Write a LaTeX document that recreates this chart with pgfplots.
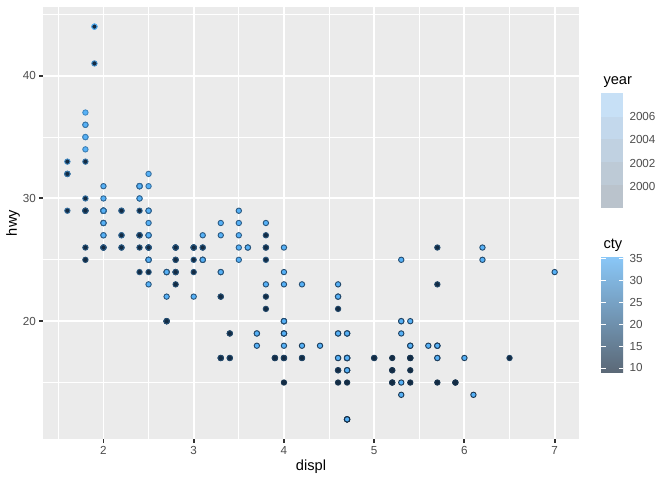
\documentclass[border=0pt]{standalone}
\usepackage{pgfplots}
\pgfplotsset{compat=1.18}
\usepackage{pgfplotstable}
\usepackage{fontspec}
\setmainfont{Liberation Sans}

\definecolor{panel}{HTML}{EBEBEB}
\definecolor{grey30}{HTML}{4D4D4D}
\definecolor{grey20}{HTML}{333333}
\definecolor{lo}{HTML}{132B43}
\definecolor{hi}{HTML}{56B1F7}
% faded legend colours
\definecolor{yrA}{HTML}{C7E0F6}
\definecolor{yrB}{HTML}{C3D8EC}
\definecolor{yrC}{HTML}{C0D1E1}
\definecolor{yrD}{HTML}{BDCAD6}
\definecolor{yrE}{HTML}{BAC3CC}
\definecolor{ctytop}{HTML}{89C6F6}
\definecolor{ctymid}{HTML}{6F95B8}
\definecolor{ctybot}{HTML}{5B6876}

\pgfplotstableread{
displ hwy cty year
1.8 29 18 1999
1.8 29 21 1999
2.0 31 20 2008
2.0 30 21 2008
2.8 26 16 1999
2.8 26 18 1999
3.1 27 18 2008
1.8 26 18 1999
1.8 25 16 1999
2.0 28 20 2008
2.0 27 19 2008
2.8 25 15 1999
2.8 25 17 1999
3.1 25 17 2008
3.1 25 15 2008
2.8 24 15 1999
3.1 25 17 2008
4.2 23 16 2008
5.3 20 14 2008
5.3 15 11 2008
5.3 20 14 2008
5.7 17 13 1999
6.0 17 12 2008
5.7 26 16 1999
5.7 23 15 1999
6.2 26 16 2008
6.2 25 15 2008
7.0 24 15 2008
5.3 19 14 2008
5.3 14 11 2008
5.7 15 11 1999
6.5 17 14 1999
2.4 27 19 1999
2.4 30 22 2008
3.1 26 18 1999
3.5 29 18 2008
3.6 26 17 2008
2.4 24 18 1999
3.0 24 17 1999
3.3 22 16 1999
3.3 22 16 1999
3.3 24 17 2008
3.3 24 17 2008
3.3 17 11 2008
3.8 22 15 1999
3.8 21 15 1999
3.8 23 16 2008
4.0 23 16 2008
3.7 19 15 2008
3.7 18 14 2008
3.9 17 13 1999
3.9 17 14 1999
4.7 19 14 2008
4.7 19 14 2008
4.7 12 9 2008
5.2 17 11 1999
5.2 15 11 1999
3.9 17 13 1999
4.7 17 13 2008
4.7 12 9 2008
4.7 17 13 2008
5.2 16 11 1999
5.7 18 13 2008
5.9 15 11 1999
4.7 16 12 2008
4.7 12 9 2008
4.7 17 13 2008
4.7 17 13 2008
4.7 16 12 2008
4.7 16 12 2008
5.2 15 11 1999
5.2 16 11 1999
5.7 17 13 2008
5.9 15 11 1999
4.6 17 11 1999
5.4 17 11 1999
5.4 18 12 2008
4.0 17 14 1999
4.0 19 15 1999
4.0 17 14 1999
4.0 19 13 2008
4.6 19 13 2008
5.0 17 13 1999
4.2 17 14 1999
4.2 17 14 1999
4.6 16 13 1999
4.6 16 13 1999
4.6 17 13 2008
5.4 15 11 1999
5.4 17 13 2008
3.8 26 18 1999
3.8 25 18 1999
4.0 26 17 2008
4.0 24 16 2008
4.6 21 15 1999
4.6 22 15 1999
4.6 23 15 2008
4.6 22 15 2008
5.4 20 14 2008
1.6 33 28 1999
1.6 32 24 1999
1.6 32 25 1999
1.6 29 23 1999
1.6 32 24 1999
1.8 34 26 2008
1.8 36 25 2008
1.8 36 24 2008
2.0 29 21 2008
2.4 26 18 1999
2.4 27 18 1999
2.4 30 21 2008
2.4 31 21 2008
2.5 26 18 1999
2.5 26 18 1999
3.3 28 19 2008
2.0 26 19 1999
2.0 29 19 1999
2.0 28 20 2008
2.0 27 20 2008
2.7 24 17 2008
2.7 24 16 2008
2.7 24 17 2008
3.0 22 17 2008
3.7 19 15 2008
4.0 20 15 1999
4.7 17 14 1999
4.7 12 9 2008
4.7 19 14 2008
5.7 18 13 2008
6.1 14 11 2008
4.0 15 11 1999
4.2 18 12 2008
4.4 18 12 2008
4.6 15 11 1999
5.4 17 11 1999
5.4 16 11 1999
5.4 18 12 2008
4.0 17 14 1999
4.0 19 13 2008
4.6 19 13 2008
5.0 17 13 1999
2.4 29 21 1999
2.4 27 19 1999
2.5 31 23 2008
2.5 32 23 2008
3.5 27 19 2008
3.5 26 19 2008
3.0 26 18 1999
3.0 25 19 1999
3.5 25 19 2008
3.3 17 14 1999
3.3 17 15 1999
4.0 20 14 2008
5.6 18 12 2008
3.1 26 18 1999
3.8 26 16 1999
3.8 27 17 1999
3.8 28 18 2008
5.3 25 16 2008
2.5 25 18 1999
2.5 24 18 1999
2.5 27 20 2008
2.5 25 19 2008
2.5 26 20 2008
2.5 23 18 2008
2.2 26 21 1999
2.2 26 19 1999
2.5 26 19 1999
2.5 26 19 1999
2.5 25 20 2008
2.5 27 20 2008
2.5 25 19 2008
2.5 27 20 2008
2.7 20 15 1999
2.7 20 16 1999
3.4 19 15 1999
3.4 17 15 1999
4.0 20 16 2008
4.7 17 14 2008
2.2 29 21 1999
2.2 27 21 1999
2.4 31 21 2008
2.4 31 21 2008
3.0 26 18 1999
3.0 26 18 1999
3.5 28 19 2008
2.2 27 21 1999
2.2 29 21 1999
2.4 31 21 2008
2.4 31 22 2008
3.0 26 18 1999
3.0 26 18 1999
3.3 27 18 2008
1.8 30 24 1999
1.8 33 24 1999
1.8 35 26 1999
1.8 37 28 2008
1.8 35 26 2008
4.7 15 11 1999
5.7 18 13 2008
2.7 20 15 1999
2.7 20 16 1999
2.7 22 17 2008
3.4 17 15 1999
3.4 19 15 1999
4.0 18 15 2008
4.0 20 16 2008
2.0 29 21 1999
2.0 26 19 1999
2.0 29 21 2008
2.0 29 22 2008
2.8 24 17 1999
1.9 44 33 1999
2.0 29 21 1999
2.0 26 19 1999
2.0 29 22 2008
2.0 29 21 2008
2.5 29 21 2008
2.5 29 21 2008
2.8 23 16 1999
2.8 24 17 1999
1.9 44 35 1999
1.9 41 29 1999
2.0 29 21 1999
2.0 26 19 1999
2.5 28 20 2008
2.5 29 20 2008
1.8 29 21 1999
1.8 29 18 1999
2.0 28 19 2008
2.0 29 21 2008
2.8 26 16 1999
2.8 26 18 1999
3.6 26 17 2008
}\mpg

\begin{document}
\begin{tikzpicture}[x=1bp,y=1bp]
\path[use as bounding box, fill=white] (0,0) rectangle (672,480);

% main panel
\begin{axis}[
    at={(43bp,41bp)}, anchor=south west,
    scale only axis, width=536bp, height=432bp,
    xmin=1.33, xmax=7.27, ymin=10.4, ymax=45.6,
    axis background/.style={fill=panel},
    axis line style={draw=none},
    xtick={2,3,4,5,6,7}, ytick={20,30,40},
    minor xtick={1.5,2.5,3.5,4.5,5.5,6.5},
    minor ytick={15,25,35,45},
    grid=both,
    major grid style={white, line width=1.9bp},
    minor grid style={white, line width=0.95bp},
    tick pos=left, tick align=outside,
    major tick length=3.7bp, minor tick length=0pt,
    every tick/.style={grey20, line width=1.9bp},
    tick label style={font=\fontsize{11.7}{14}\selectfont, text=grey30},
    /pgf/number format/assume math mode=true,
    colormap={ctymap}{rgb255=(19,43,67) rgb255=(51,106,152) rgb255=(86,177,247)},
    point meta min=9, point meta max=35,
  ]
  \addplot[scatter, only marks, mark=*, mark size=2.7bp, line width=0.9bp,
    point meta=\thisrow{cty},
    visualization depends on={\thisrow{year}\as\yr},
    scatter/use mapped color={draw=mapped color},
    scatter/@pre marker code/.append code={%
      \ifdim\yr pt>2003pt\pgfsetfillcolor{hi}\else\pgfsetfillcolor{lo}\fi},
  ] table[x=displ, y=hwy] {\mpg};
\end{axis}

\node[font=\fontsize{14.7}{17}\selectfont] at (311,13) {displ};
\node[font=\fontsize{14.7}{17}\selectfont, rotate=90] at (13,257) {hwy};

% year legend
\node[font=\fontsize{14.7}{17}\selectfont, anchor=base west] at (600,395) {year};
\begin{axis}[
    at={(601bp,272bp)}, anchor=south west,
    scale only axis, width=22bp, height=115bp,
    xmin=0, xmax=1, ymin=1998.22, ymax=2007.95,
    axis line style={draw=none}, xtick=\empty,
    ytick={2000,2002,2004,2006}, yticklabels={2000,2002,2004,2006},
    yticklabel pos=right, major tick length=0pt,
    yticklabel style={font=\fontsize{11.7}{14}\selectfont, text=grey30, xshift=3bp},
  ]
  \fill[yrE] (axis cs:0,1998.22) rectangle (axis cs:1,2000.17);
  \fill[yrD] (axis cs:0,2000.17) rectangle (axis cs:1,2002.11);
  \fill[yrC] (axis cs:0,2002.11) rectangle (axis cs:1,2004.06);
  \fill[yrB] (axis cs:0,2004.06) rectangle (axis cs:1,2005.92);
  \fill[yrA] (axis cs:0,2005.92) rectangle (axis cs:1,2007.95);
\end{axis}

% cty legend
\node[font=\fontsize{14.7}{17}\selectfont, anchor=base west] at (600,231) {cty};
\begin{axis}[
    at={(601bp,107bp)}, anchor=south west,
    scale only axis, width=22bp, height=115bp,
    xmin=0, xmax=1, ymin=8.85, ymax=35.2,
    axis line style={draw=none}, xtick=\empty,
    ytick={10,15,20,25,30,35},
    yticklabel pos=right, ytick pos=both, tick align=inside,
    major tick length=4.5bp,
    every tick/.style={white, line width=0.9bp},
    axis on top,
    yticklabel style={font=\fontsize{11.7}{14}\selectfont, text=grey30, xshift=3bp},
    /pgf/number format/assume math mode=true,
  ]
  \shade[bottom color=ctybot, middle color=ctymid, top color=ctytop]
    (axis cs:0,8.85) rectangle (axis cs:1,35.2);
\end{axis}
\end{tikzpicture}
\end{document}
